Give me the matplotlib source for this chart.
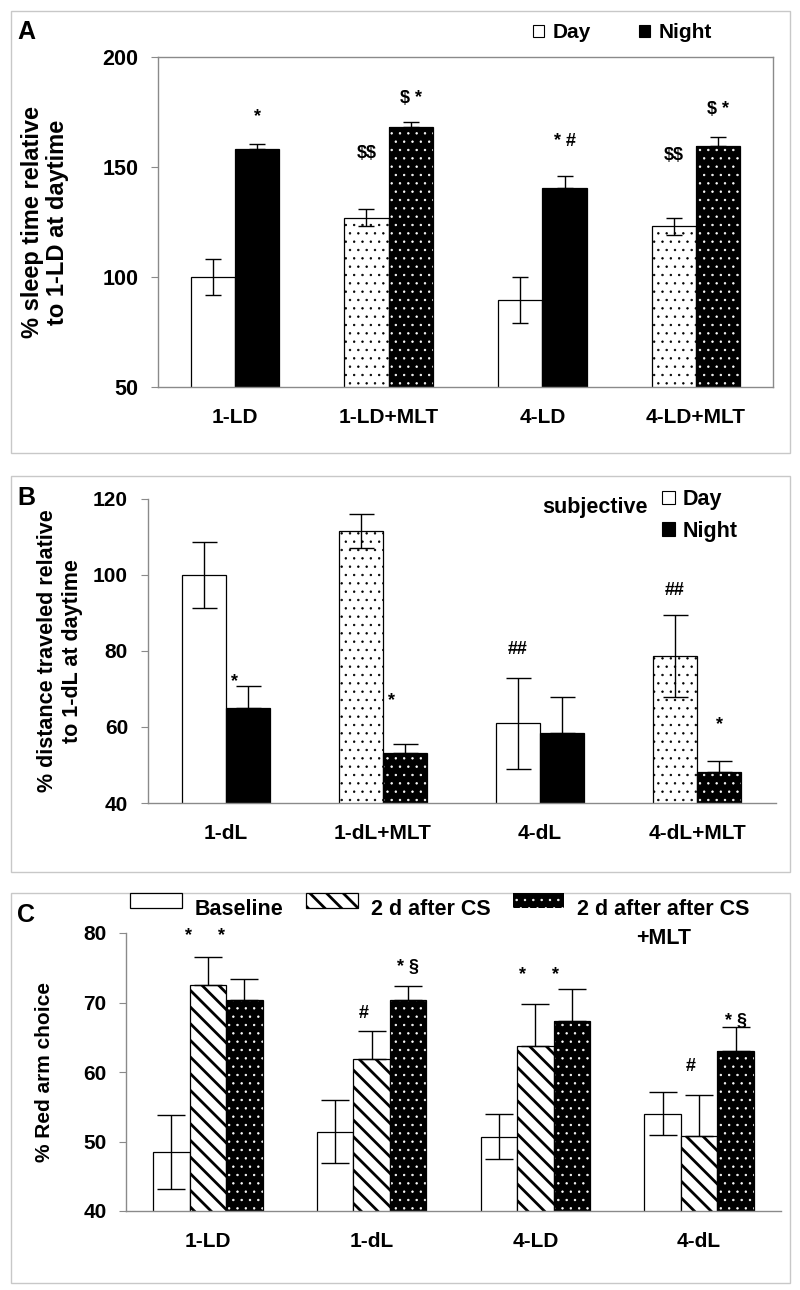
import matplotlib
matplotlib.use('Agg')
import matplotlib.pyplot as plt
from matplotlib.patches import Patch, Rectangle
from matplotlib.legend_handler import HandlerPatch

plt.rcParams['font.family'] = ['Liberation Sans', 'DejaVu Sans']
plt.rcParams['font.weight'] = 'bold'
plt.rcParams['hatch.linewidth'] = 0.5
plt.rcParams['text.parse_math'] = False

# ---- data: panel A (sleep time) ----
a_groups = ['1-LD', '1-LD+MLT', '4-LD', '4-LD+MLT']
a_day = [100, 127, 89.5, 123]
a_day_err = [8, 4, 10.5, 4]
a_night = [158, 168, 140.3, 159.5]
a_night_err = [2.5, 2.3, 5.7, 4.3]
a_day_marks = ['', '$$', '', '$$']
a_day_marks_y = [0, 156, 0, 155]
a_night_marks = ['*', '$ *', '* #', '$ *']
a_night_marks_y = [172.7, 181, 161.5, 176]

# ---- data: panel B (distance traveled) ----
b_groups = ['1-dL', '1-dL+MLT', '4-dL', '4-dL+MLT']
b_day = [100, 111.5, 61, 78.7]
b_day_err = [8.7, 4.5, 12, 10.7]
b_night = [65, 53.2, 58.5, 48.2]
b_night_err = [5.8, 2.3, 9.3, 2.9]
b_day_marks = ['', '', '##', '##']
b_day_marks_y = [0, 0, 80.5, 96]
b_night_marks = ['*', '*', '', '*']
b_night_marks_y = [72, 67, 0, 60.6]

# ---- data: panel C (red arm choice) ----
c_groups = ['1-LD', '1-dL', '4-LD', '4-dL']
c_base = [48.5, 51.4, 50.7, 54.0]
c_base_err = [5.3, 4.5, 3.2, 3.1]
c_cs = [72.5, 61.9, 63.7, 50.8]
c_cs_err = [4.0, 4.0, 6.1, 5.9]
c_mlt = [70.4, 70.4, 67.4, 63.0]
c_mlt_err = [3.0, 2.0, 4.6, 3.5]
c_cs_marks = ['*', '#', '*', '#']
c_cs_marks_y = [79.6, 68.4, 74.0, 60.8]
c_mlt_marks = ['*', '* \u00a7', '*', '* \u00a7']
c_mlt_marks_y = [79.6, 75.0, 74.0, 67.3]

W, H = 800, 1290
fig = plt.figure(figsize=(W / 100, H / 100), dpi=100)
GRAY = '#8a8a8a'


def add_axes_px(left, top, right, bottom):
    return fig.add_axes([left / W, 1 - bottom / H, (right - left) / W, (bottom - top) / H])


def set_hlw(container, lw):
    for p in container:
        if hasattr(p, 'set_hatch_linewidth'):
            p.set_hatch_linewidth(lw)


def draw_bars(ax, x, h, w, style):
    if style == 'white':
        ax.bar(x, h, w, facecolor='white', edgecolor='black', lw=0.9, zorder=2)
    elif style == 'black':
        ax.bar(x, h, w, facecolor='black', edgecolor='black', lw=0.9, zorder=2)
    elif style == 'dots_white':
        with plt.rc_context({'hatch.linewidth': 0.5}):
            b = ax.bar(x, h, w, facecolor='white', edgecolor='black', hatch='..', lw=0, zorder=2)
        set_hlw(b, 0.5)
        ax.bar(x, h, w, fill=False, edgecolor='black', lw=0.9, zorder=2.1)
    elif style == 'dots_black':
        with plt.rc_context({'hatch.linewidth': 0.5}):
            b = ax.bar(x, h, w, facecolor='black', edgecolor='white', hatch='..', lw=0, zorder=2)
        set_hlw(b, 0.5)
        ax.bar(x, h, w, fill=False, edgecolor='black', lw=0.9, zorder=2.1)
    elif style == 'stripes':
        with plt.rc_context({'hatch.linewidth': 2.0}):
            b = ax.bar(x, h, w, facecolor='white', edgecolor='black', hatch='\\\\', lw=0.9, zorder=2)
        set_hlw(b, 2.0)


def draw_err(ax, x, h, err, capsize, both=True):
    lower = err if both else [0] * len(err)
    ax.errorbar(x, h, yerr=[lower, err], fmt='none', ecolor='black', elinewidth=1.0,
                capsize=capsize, capthick=1.0, zorder=3)


def style_axes(ax, ylim, yticks, labels, fs_tick, fs_x, full_box=False):
    ax.set_xlim(-0.5, 3.5)
    ax.set_ylim(*ylim)
    ax.set_yticks(yticks)
    ax.set_yticklabels([str(t) for t in yticks], fontsize=fs_tick, fontweight='bold')
    ax.set_xticks(range(4))
    ax.set_xticklabels(labels, fontsize=fs_x, fontweight='bold')
    ax.tick_params(axis='x', length=0, pad=15)
    ax.tick_params(axis='y', length=5, width=0.8, color=GRAY, direction='out', pad=9)
    for side, sp in ax.spines.items():
        sp.set_color(GRAY)
        sp.set_linewidth(1.0)
        if not full_box and side in ('top', 'right'):
            sp.set_visible(False)


def put_marks(ax, xs, marks, ys, fs, shifts=None):
    for i, (m, y) in enumerate(zip(marks, ys)):
        if m:
            dx = shifts[i] if shifts else 0
            ax.text(xs[i] + dx, y, m, ha='center', va='center', fontsize=fs,
                    fontweight='bold', clip_on=False, zorder=4)


# panel frames
for top, bottom in [(11, 453), (476, 872), (893, 1283)]:
    fig.patches.append(Rectangle((11 / W, 1 - bottom / H), 779 / W, (bottom - top) / H,
                                 transform=fig.transFigure, fill=False,
                                 edgecolor='#c8c8c8', lw=1.0))

# ---------------- Panel A ----------------
axA = add_axes_px(158, 57, 773, 387)
wa = 0.288
xd = [i - wa / 2 for i in range(4)]
xn = [i + wa / 2 for i in range(4)]
for i in range(4):
    draw_bars(axA, [xd[i]], [a_day[i]], wa, 'white' if i % 2 == 0 else 'dots_white')
    draw_bars(axA, [xn[i]], [a_night[i]], wa, 'black' if i % 2 == 0 else 'dots_black')
draw_err(axA, xd, a_day, a_day_err, 6)
draw_err(axA, xn, a_night, a_night_err, 6, both=False)
style_axes(axA, (50, 200), [50, 100, 150, 200], a_groups, 15.5, 15, full_box=True)
put_marks(axA, xd, a_day_marks, a_day_marks_y, 13)
put_marks(axA, xn, a_night_marks, a_night_marks_y, 13)
fig.text(17 / W, 1 - 32 / H, 'A', fontsize=18, fontweight='bold', ha='left', va='center')
fig.text(45 / W, 1 - 222 / H, '% sleep time relative\nto 1-LD at daytime', rotation=90,
         ha='center', va='center', multialignment='center', fontsize=17, fontweight='bold',
         linespacing=1.15)
legA = fig.legend([Patch(facecolor='white', edgecolor='black', lw=0.8),
                   Patch(facecolor='black', edgecolor='black', lw=0.8)],
                  ['Day', 'Night'], loc='center left', bbox_to_anchor=(533 / W, 1 - 33 / H),
                  ncol=2, frameon=False, fontsize=15, borderpad=0, borderaxespad=0,
                  handlelength=0.55, handleheight=0.55, handletextpad=0.4, columnspacing=2.3)

# ---------------- Panel B ----------------
axB = add_axes_px(147.5, 499, 775.5, 803)
wb = 0.283
xd = [i - wb / 2 for i in range(4)]
xn = [i + wb / 2 for i in range(4)]
for i in range(4):
    draw_bars(axB, [xd[i]], [b_day[i]], wb, 'white' if i % 2 == 0 else 'dots_white')
    draw_bars(axB, [xn[i]], [b_night[i]], wb, 'black' if i % 2 == 0 else 'dots_black')
draw_err(axB, xd, b_day, b_day_err, 9)
draw_err(axB, xn, b_night, b_night_err, 9, both=False)
style_axes(axB, (40, 120), [40, 60, 80, 100, 120], b_groups, 15, 15)
put_marks(axB, xd, b_day_marks, b_day_marks_y, 13)
put_marks(axB, xn, b_night_marks, b_night_marks_y, 13, shifts=[-0.09, -0.09, 0, 0])
fig.text(17 / W, 1 - 498 / H, 'B', fontsize=18, fontweight='bold', ha='left', va='center')
fig.text(60 / W, 1 - 651 / H, '% distance traveled relative\nto 1-dL at daytime', rotation=90,
         ha='center', va='center', multialignment='center', fontsize=15.5, fontweight='bold')
fig.text(542 / W, 1 - 507 / H, 'subjective', fontsize=15.5, fontweight='bold',
         ha='left', va='center')
legB = fig.legend([Patch(facecolor='white', edgecolor='black', lw=0.8),
                   Patch(facecolor='black', edgecolor='black', lw=0.8)],
                  ['Day', 'Night'], loc='upper left', bbox_to_anchor=(662 / W, 1 - 489 / H),
                  ncol=1, frameon=False, fontsize=15.5, borderpad=0, borderaxespad=0,
                  handlelength=0.6, handleheight=0.6, handletextpad=0.35, labelspacing=0.5)

# ---------------- Panel C ----------------
axC = add_axes_px(126, 933, 781, 1211)
wc = 0.223
xb = [i - wc for i in range(4)]
xc = [i for i in range(4)]
xm = [i + wc for i in range(4)]
draw_bars(axC, xb, c_base, wc, 'white')
draw_bars(axC, xc, c_cs, wc, 'stripes')
draw_bars(axC, xm, c_mlt, wc, 'dots_black')
draw_err(axC, xb, c_base, c_base_err, 10)
draw_err(axC, xc, c_cs, c_cs_err, 10, both=False)
draw_err(axC, xm, c_mlt, c_mlt_err, 10, both=False)
style_axes(axC, (40, 80), [40, 50, 60, 70, 80], c_groups, 15, 15)
put_marks(axC, xc, c_cs_marks, c_cs_marks_y, 13, shifts=[-0.12, -0.05, -0.08, -0.05])
put_marks(axC, xm, c_mlt_marks, c_mlt_marks_y, 13, shifts=[-0.14, 0, -0.1, 0])
fig.text(17 / W, 1 - 915 / H, 'C', fontsize=18, fontweight='bold', ha='left', va='center')
fig.text(45 / W, 1 - 1072 / H, '% Red arm choice', rotation=90,
         ha='center', va='center', fontsize=15, fontweight='bold')


def raised_box(legend, orig_handle, xdescent, ydescent, width, height, fontsize):
    p = Rectangle((-xdescent, -ydescent + 5), width, height)
    if hasattr(orig_handle, 'get_hatch_linewidth') and hasattr(p, 'set_hatch_linewidth'):
        p.set_hatch_linewidth(orig_handle.get_hatch_linewidth())
    return p


with plt.rc_context({'hatch.linewidth': 2.0}):
    h_cs = Patch(facecolor='white', edgecolor='black', hatch='\\\\', lw=0.9)
with plt.rc_context({'hatch.linewidth': 0.5}):
    h_mlt = Patch(facecolor='black', edgecolor='white', hatch='..', lw=0)
h_base = Patch(facecolor='white', edgecolor='black', lw=0.9)
for hp, lw in [(h_cs, 2.0), (h_mlt, 0.5)]:
    if hasattr(hp, 'set_hatch_linewidth'):
        hp.set_hatch_linewidth(lw)

legC = fig.legend([h_base, h_cs, h_mlt], ['Baseline', '2 d after CS', '2 d after after CS'],
                  loc='upper left', bbox_to_anchor=(130 / W, 1 - 899 / H), ncol=3,
                  frameon=False, fontsize=15.5, borderpad=0, borderaxespad=0,
                  handlelength=2.4, handleheight=0.75, handletextpad=0.6, columnspacing=1.05,
                  handler_map={Patch: HandlerPatch(patch_func=raised_box)})

fig.canvas.draw()
bb = legC.get_texts()[2].get_window_extent()
fig.text((bb.x0 + bb.x1) / 2 / W, 1 - 939 / H, '+MLT', fontsize=15.5, fontweight='bold',
         ha='center', va='center')

fig.savefig('out.png', dpi=100)
